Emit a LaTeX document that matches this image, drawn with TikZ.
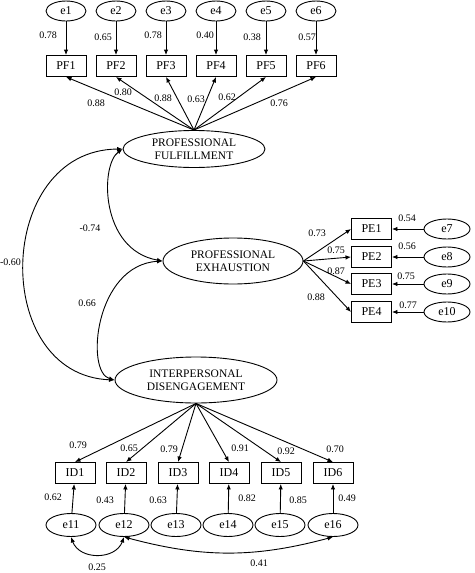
\documentclass[tikz,border=0pt]{standalone}
\usepackage{fontspec}
\setmainfont{Liberation Serif}
\usetikzlibrary{shapes.geometric}
\usetikzlibrary{arrows.meta}

\begin{document}
\begin{tikzpicture}[x=1pt,y=-1pt,
                line width=0.9pt,
                >={Latex[length=5.5pt,width=4.5pt]},
                obs/.style={rectangle,draw,
                    minimum width=40pt,minimum height=21pt,
                    inner sep=0pt,font=\fontsize{12}{13}\selectfont},
                err/.style n args={2}{ellipse,draw,
                    minimum width=#1pt,minimum height=#2pt,
                    inner sep=0pt,font=\fontsize{12}{13}\selectfont},
                lat/.style n args={2}{ellipse,draw,align=center,
                    minimum width=#1pt,minimum height=#2pt,
                    inner sep=0pt,font=\fontsize{11.5}{13}\selectfont},
                coef/.style={inner sep=0pt,font=\fontsize{10}{11}\selectfont}]
                \useasboundingbox (0,0) rectangle (474,573);
                % latent factors
                \node[lat={142}{37}](pfl) at (194,149) {PROFESSIONAL\\FULFILLMENT};
                \node[lat={140}{46}](pel) at (233,261) {PROFESSIONAL\\EXHAUSTION};
                \node[lat={162}{46}](idl) at (196,380) {INTERPERSONAL\\DISENGAGEMENT};
                % professional fulfillment
                \foreach \i/\x in {1/66,2/116,3/166,4/216,5/266,6/316} {
                    \node[err={40}{20}](e\i) at (\x,11) {e\i};
                    \node[obs](pf\i) at (\x,66) {PF\i};
                    \draw[->] (e\i) -- (pf\i);
                    \draw[->] (pfl.north) -- (pf\i.south);
                }
                \foreach \v/\x/\y in {0.78/48/35,0.65/103/37,0.78/153/35,0.40/205/35,0.38/252/37,0.57/307/37,
                                      0.88/96/103,0.80/123/92,0.88/163/98,0.63/196/99,0.62/227/97,0.76/279/103}
                    \node[coef] at (\x,\y) {\v};
                % professional exhaustion
                \foreach \i/\j/\y in {1/7/229,2/8/257,3/9/284,4/10/312} {
                    \node[obs](pe\i) at (371.5,\y) {PE\i};
                    \node[err={46}{20}](e\j) at (447,\y) {e\j};
                    \draw[->] (e\j) -- (pe\i);
                    \draw[->] (pel.east) -- (pe\i.west);
                }
                \foreach \v/\x/\y in {0.73/317/233,0.75/336/250,0.87/336/271,0.88/316/297,
                                      0.54/407/218,0.56/407/246,0.75/406/276,0.77/408/305}
                    \node[coef] at (\x,\y) {\v};
                % interpersonal disengagement
                \foreach \i/\j/\x/\ex in {1/11/75/71,2/12/126/124,3/13/178/176,4/14/229/228,5/15/281/280,6/16/333/333} {
                    \node[obs](id\i) at (\x,473) {ID\i};
                    \node[err={50}{23}](e\j) at (\ex,525) {e\j};
                    \draw[->] (e\j) -- (id\i);
                    \draw[->] (idl.south) -- (id\i.north);
                }
                \foreach \v/\x/\y in {0.79/78/445,0.65/129/448,0.79/169/449,0.91/240/448,0.92/286/451,0.70/335/449,
                                      0.62/53/497,0.43/105/500,0.63/158/500,0.82/247/498,0.85/298/500,0.49/347/498}
                    \node[coef] at (\x,\y) {\v};
                % correlations
                \draw[<->] (pfl.west) .. controls (100,165) and (100,250) .. (pel.west);
                \draw[<->] (pel.west) .. controls (95,265) and (85,372) .. (idl.west);
                \draw[<->] (pfl.west) .. controls (-5,150) and (-10,375) .. (idl.west);
                \draw[<->] (e11.south) to[out=-70,in=-110,looseness=1.2] (e12.south);
                \draw[<->] (e12.south) to[out=-15,in=-165] (e16.south);
                \node[coef] at (90,228) {-0.74};
                \node[coef] at (87,303) {0.66};
                \node[coef] at (10.5,262) {-0.60};
                \node[coef] at (97,567) {0.25};
                \node[coef] at (259,563) {0.41};
            \end{tikzpicture}
\end{document}
